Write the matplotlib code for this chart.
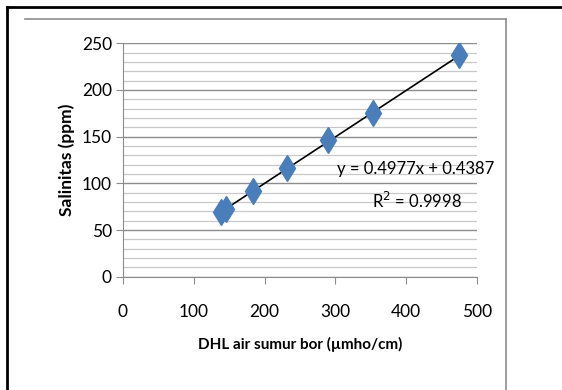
import matplotlib.pyplot as plt
from matplotlib.lines import Line2D
import numpy as np

# values
dhl = [138, 145, 184, 231, 290, 353, 474]
salinitas = [69, 73, 92, 116, 146, 175, 237]
slope, intercept = 0.4977, 0.4387
r2 = 0.9998

fig = plt.figure(figsize=(5.62, 3.9), dpi=100)
plt.rcParams['font.family'] = ['Lato', 'DejaVu Sans']

W, H = 562, 390
ax = fig.add_axes([123 / W, 1 - 276.7 / H, 354 / W, 233.4 / H])

ax.set_xlim(0, 500)
ax.set_ylim(0, 250)
ax.set_xticks(np.arange(0, 501, 100))
ax.set_yticks(np.arange(0, 251, 50))
ax.set_yticks(np.arange(0, 251, 10), minor=True)
ax.grid(True, axis='y', which='major', color='#8c8c8c', lw=1.0)
ax.grid(True, axis='y', which='minor', color='#c8c8c8', lw=0.9)
ax.set_axisbelow(True)

for s in ['top', 'right']:
    ax.spines[s].set_visible(False)
for s in ['left', 'bottom']:
    ax.spines[s].set_color('#8c8c8c')
ax.tick_params(axis='both', which='major', length=5, color='#8c8c8c',
               labelsize=12.5, pad=15)
ax.tick_params(axis='y', pad=3)
ax.tick_params(axis='y', which='minor', length=0)

xs = np.array([min(dhl), max(dhl)])
ax.plot(xs, slope * xs + intercept, color='black', lw=1.2, zorder=3)
ax.plot(dhl, salinitas, linestyle='none', marker='d', markersize=13,
        color='#4a7ebb', markeredgecolor='#4a7ebb', zorder=4)

ax.text(414, 115, f'y = {slope}x + {intercept}', ha='center', va='center', fontsize=12)
ax.text(415, 81, f'R$^2$ = {r2}', ha='center', va='center', fontsize=12)

ax.set_xlabel('DHL air sumur bor (µmho/cm)', fontsize=11, fontweight='bold', labelpad=12)
ax.set_ylabel('Salinitas (ppm)', fontsize=12.5, fontweight='bold', labelpad=5)

# chart frames
fig.add_artist(Line2D([7 / W, 1], [1 - 7 / H, 1 - 7 / H], color='black', lw=2))
fig.add_artist(Line2D([7 / W, 7 / W], [0, 1 - 7 / H], color='black', lw=2))
fig.add_artist(Line2D([25 / W, 506 / W], [1 - 19 / H, 1 - 19 / H], color='#8c8c8c', lw=1.2))
fig.add_artist(Line2D([506 / W, 506 / W], [0, 1 - 19 / H], color='#8c8c8c', lw=1.2))

fig.savefig('out.png', dpi=100)
